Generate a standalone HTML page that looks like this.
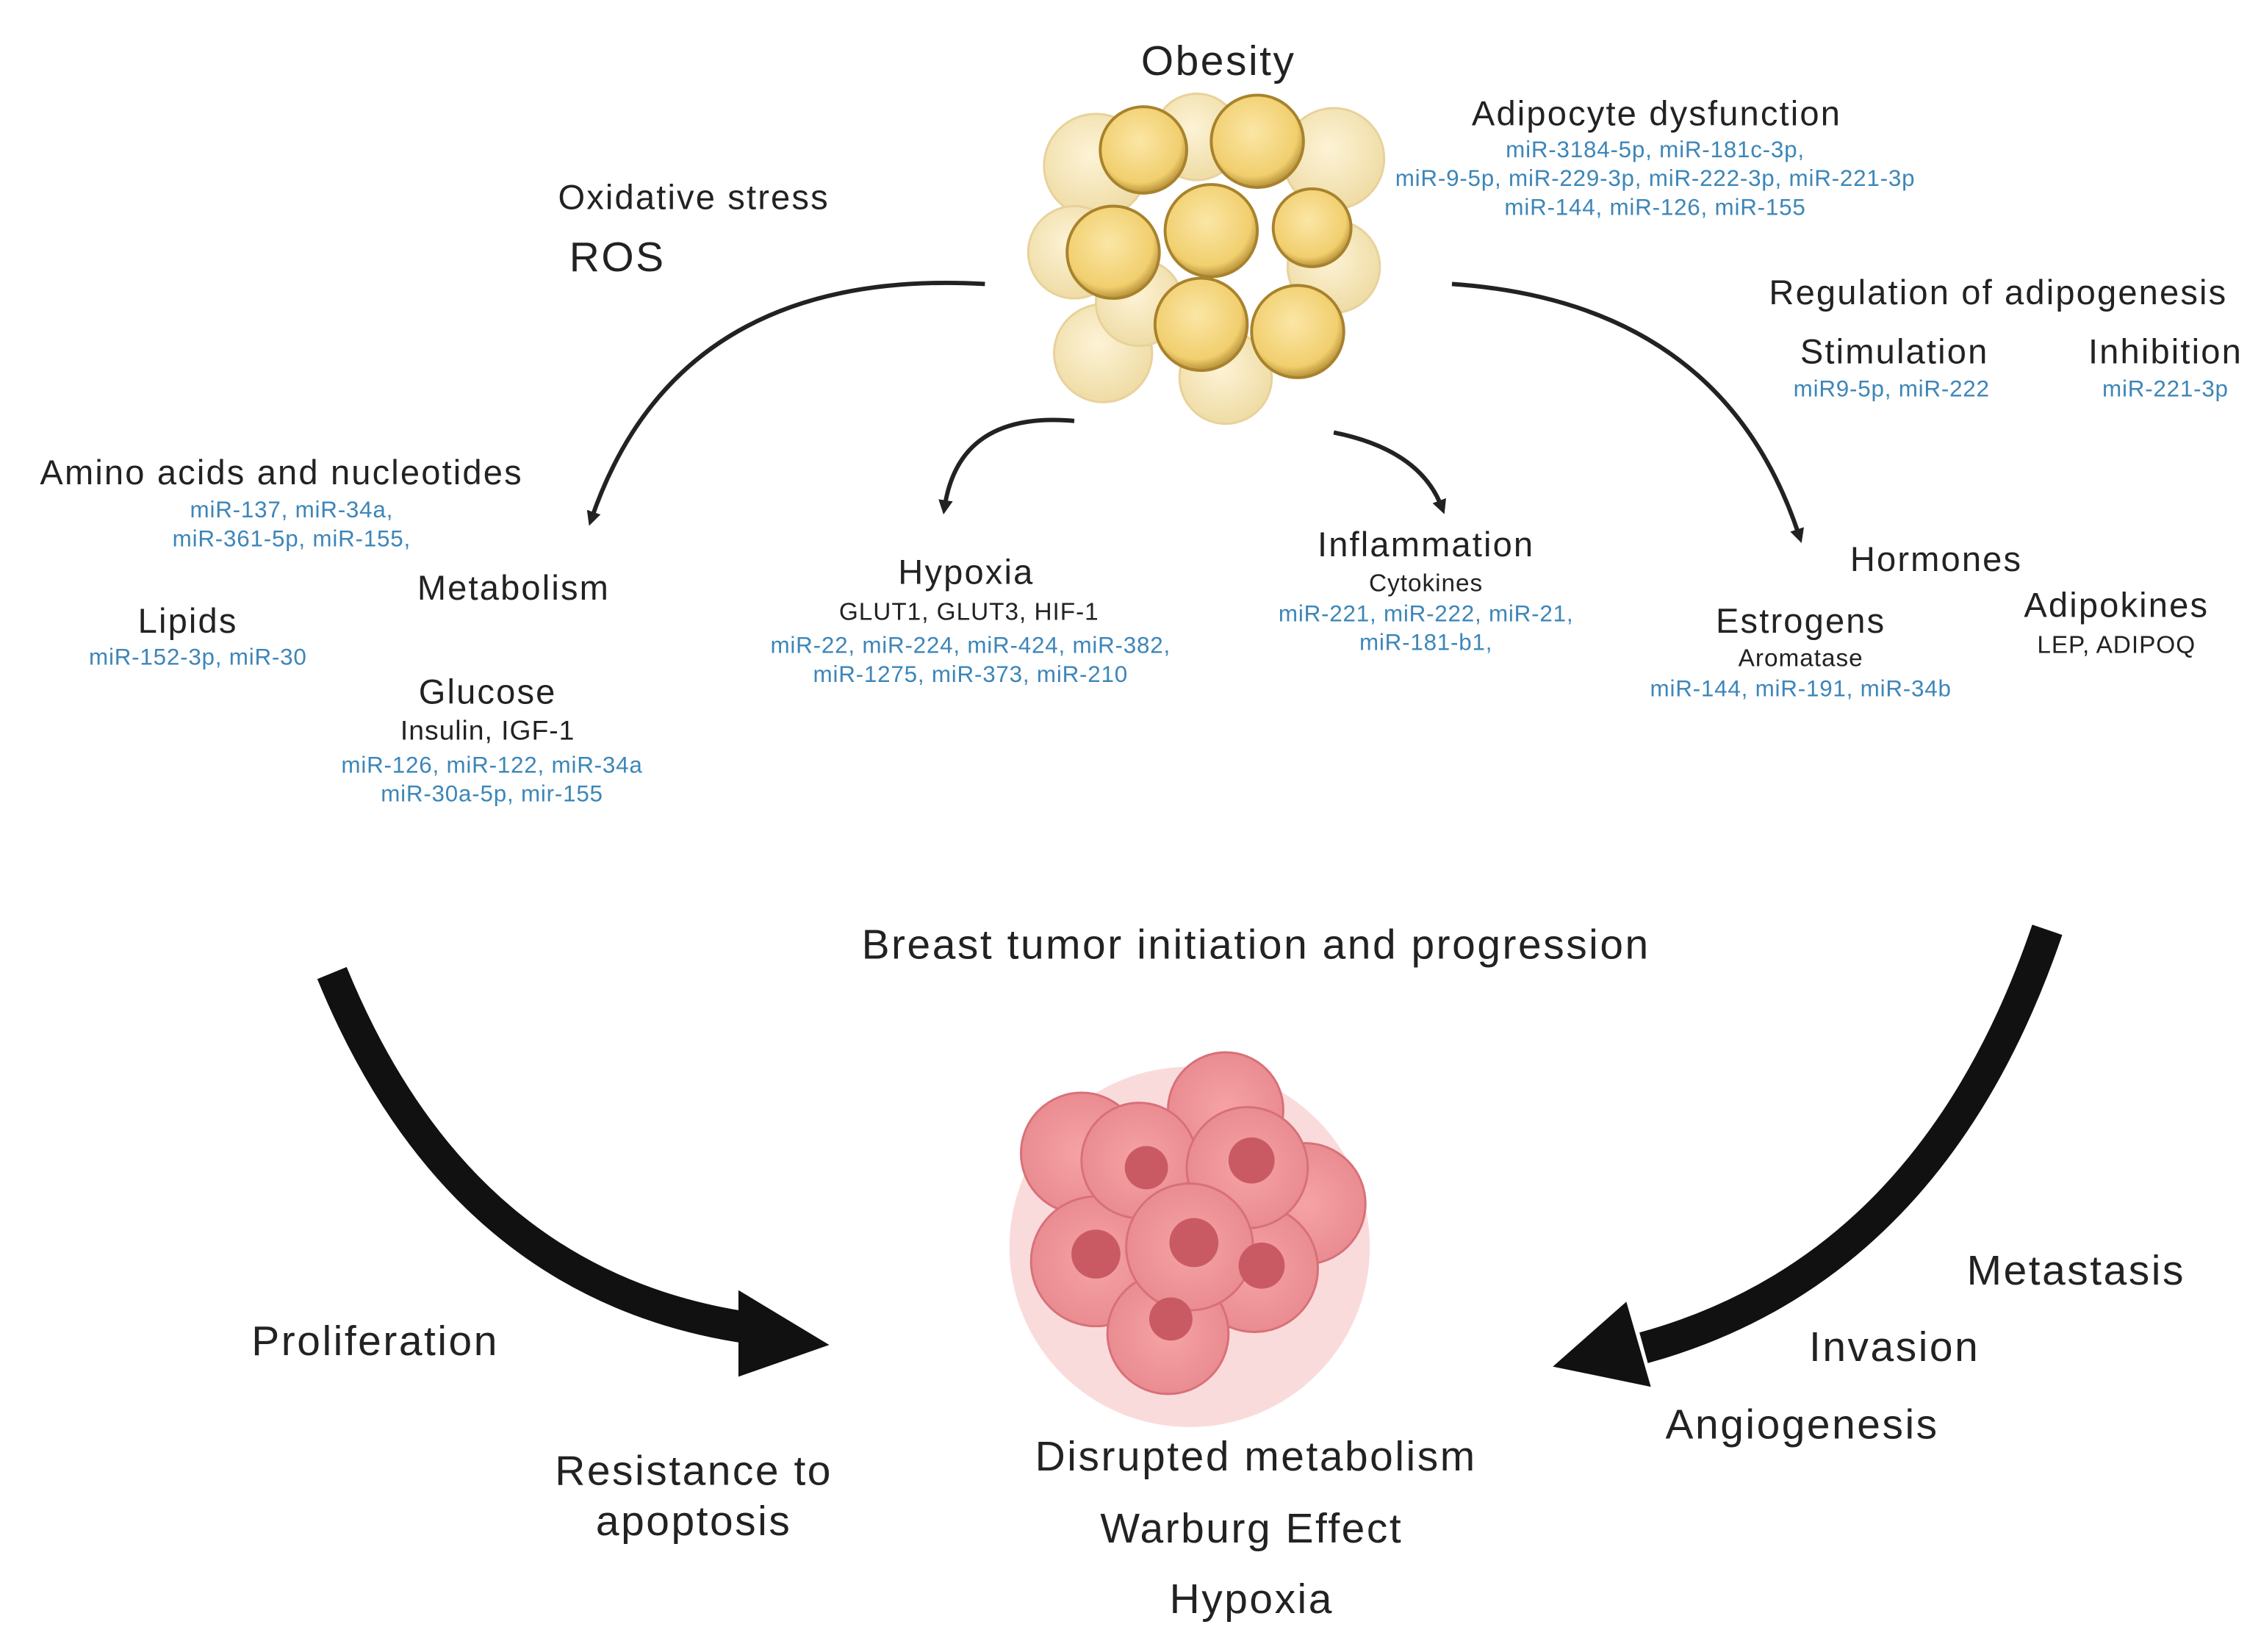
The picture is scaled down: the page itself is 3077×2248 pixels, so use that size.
<!DOCTYPE html>
<html><head><meta charset="utf-8"><style>
html,body{margin:0;padding:0;background:#fff}
svg{display:block}
text{font-family:"Liberation Sans",sans-serif;fill:#222}
.b{fill:#3d86b8;font-size:16px;letter-spacing:0.4px}
.m{font-size:24px;letter-spacing:1.1px}
.s{font-size:17px;letter-spacing:0.5px}
.l{font-size:29px;letter-spacing:1.3px}
</style></head><body>
<svg width="3077" height="2248" viewBox="0 0 1568 1146" xmlns="http://www.w3.org/2000/svg">
<defs>
<marker id="ah" markerWidth="10" markerHeight="10" refX="5" refY="5" orient="auto" markerUnits="userSpaceOnUse" viewBox="0 0 10 10">
<path d="M0,0 L10,5 L0,10 Z" fill="#222"/></marker>
<radialGradient id="fat" cx="45%" cy="40%" r="60%"><stop offset="0" stop-color="#fbe6a6"/><stop offset="0.8" stop-color="#f1cf6e"/><stop offset="1" stop-color="#b8923a"/></radialGradient>
<radialGradient id="fatl" cx="45%" cy="40%" r="60%"><stop offset="0" stop-color="#fdf3d6"/><stop offset="1" stop-color="#efdca5"/></radialGradient>
<radialGradient id="cell" cx="50%" cy="50%" r="55%"><stop offset="0" stop-color="#f6a3a6"/><stop offset="1" stop-color="#e88a8f"/></radialGradient>
</defs>
<g stroke="#e8d29a" stroke-width="1.5">
<circle cx="760" cy="115" r="36" fill="url(#fatl)"/>
<circle cx="830" cy="95" r="30" fill="url(#fatl)"/>
<circle cx="925" cy="110" r="35" fill="url(#fatl)"/>
<circle cx="745" cy="175" r="32" fill="url(#fatl)"/>
<circle cx="925" cy="185" r="32" fill="url(#fatl)"/>
<circle cx="765" cy="245" r="34" fill="url(#fatl)"/>
<circle cx="850" cy="262" r="32" fill="url(#fatl)"/>
<circle cx="790" cy="210" r="30" fill="url(#fatl)"/>
</g>
<g stroke="#a8822c" stroke-width="2">
<circle cx="793" cy="104" r="30" fill="url(#fat)"/>
<circle cx="872" cy="98" r="32" fill="url(#fat)"/>
<circle cx="840" cy="160" r="32" fill="url(#fat)"/>
<circle cx="772" cy="175" r="32" fill="url(#fat)"/>
<circle cx="910" cy="158" r="27" fill="url(#fat)"/>
<circle cx="833" cy="225" r="32" fill="url(#fat)"/>
<circle cx="900" cy="230" r="32" fill="url(#fat)"/>
</g>
<g>
<circle cx="825" cy="865" r="125" fill="#f9d2d3" opacity="0.8"/>
<g fill="url(#cell)" stroke="#d87078" stroke-width="1.5">
<circle cx="750" cy="800" r="42"/><circle cx="850" cy="770" r="40"/><circle cx="905" cy="835" r="42"/>
<circle cx="760" cy="875" r="45"/><circle cx="870" cy="880" r="44"/><circle cx="810" cy="925" r="42"/>
<circle cx="790" cy="805" r="40"/><circle cx="865" cy="810" r="42"/><circle cx="825" cy="865" r="44"/>
</g>
<g fill="#c95a64">
<circle cx="795" cy="810" r="15"/><circle cx="868" cy="805" r="16"/><circle cx="760" cy="870" r="17"/>
<circle cx="828" cy="862" r="17"/><circle cx="875" cy="878" r="16"/><circle cx="812" cy="915" r="15"/>
</g>
</g>
<g fill="none" stroke="#222" stroke-width="3">
<path d="M683,197 Q470,185 410,360" marker-end="url(#ah)"/>
<path d="M745,292 Q665,285 655,352" marker-end="url(#ah)"/>
<path d="M925,300 Q985,312 1000,352" marker-end="url(#ah)"/>
<path d="M1007,197 Q1195,210 1248,372" marker-end="url(#ah)"/>
</g>
<path d="M230,675 Q320,895 525,922" fill="none" stroke="#111" stroke-width="22"/>
<path d="M512,895 L575,933 L512,955 Z" fill="#111"/>
<path d="M1420,645 Q1340,880 1140,935" fill="none" stroke="#111" stroke-width="22"/>
<path d="M1128,903 L1077,948 L1145,962 Z" fill="#111"/>
<text x="845" y="52" class="l" text-anchor="middle">Obesity</text>
<text x="1149" y="87" class="m" text-anchor="middle">Adipocyte dysfunction</text>
<text x="1148" y="109" class="b" text-anchor="middle">miR-3184-5p, miR-181c-3p,</text>
<text x="1148" y="129" class="b" text-anchor="middle">miR-9-5p, miR-229-3p, miR-222-3p, miR-221-3p</text>
<text x="1148" y="149" class="b" text-anchor="middle">miR-144, miR-126, miR-155</text>
<text x="481" y="145" class="m" text-anchor="middle">Oxidative stress</text>
<text x="428" y="188" class="l" text-anchor="middle">ROS</text>
<text x="1386" y="211" class="m" text-anchor="middle">Regulation of adipogenesis</text>
<text x="1314" y="252" class="m" text-anchor="middle">Stimulation</text>
<text x="1312" y="275" class="b" text-anchor="middle">miR9-5p, miR-222</text>
<text x="1502" y="252" class="m" text-anchor="middle">Inhibition</text>
<text x="1502" y="275" class="b" text-anchor="middle">miR-221-3p</text>
<text x="195" y="336" class="m" text-anchor="middle">Amino acids and nucleotides</text>
<text x="202" y="359" class="b" text-anchor="middle">miR-137, miR-34a,</text>
<text x="202" y="379" class="b" text-anchor="middle">miR-361-5p, miR-155,</text>
<text x="356" y="416" class="m" text-anchor="middle">Metabolism</text>
<text x="130" y="439" class="m" text-anchor="middle">Lipids</text>
<text x="137" y="461" class="b" text-anchor="middle">miR-152-3p, miR-30</text>
<text x="338" y="488" class="m" text-anchor="middle">Glucose</text>
<text x="338" y="513" class="s" text-anchor="middle" style="font-size:19px">Insulin, IGF-1</text>
<text x="341" y="536" class="b" text-anchor="middle">miR-126, miR-122, miR-34a</text>
<text x="341" y="556" class="b" text-anchor="middle">miR-30a-5p, mir-155</text>
<text x="670" y="405" class="m" text-anchor="middle">Hypoxia</text>
<text x="672" y="430" class="s" text-anchor="middle">GLUT1, GLUT3, HIF-1</text>
<text x="673" y="453" class="b" text-anchor="middle">miR-22, miR-224, miR-424, miR-382,</text>
<text x="673" y="473" class="b" text-anchor="middle">miR-1275, miR-373, miR-210</text>
<text x="989" y="386" class="m" text-anchor="middle">Inflammation</text>
<text x="989" y="410" class="s" text-anchor="middle">Cytokines</text>
<text x="989" y="431" class="b" text-anchor="middle">miR-221, miR-222, miR-21,</text>
<text x="989" y="451" class="b" text-anchor="middle">miR-181-b1,</text>
<text x="1343" y="396" class="m" text-anchor="middle">Hormones</text>
<text x="1249" y="439" class="m" text-anchor="middle">Estrogens</text>
<text x="1249" y="462" class="s" text-anchor="middle">Aromatase</text>
<text x="1249" y="483" class="b" text-anchor="middle">miR-144, miR-191, miR-34b</text>
<text x="1468" y="428" class="m" text-anchor="middle">Adipokines</text>
<text x="1468" y="453" class="s" text-anchor="middle">LEP, ADIPOQ</text>
<text x="871" y="665" class="l" text-anchor="middle">Breast tumor initiation and progression</text>
<text x="260" y="940" class="l" text-anchor="middle">Proliferation</text>
<text x="481" y="1030" class="l" text-anchor="middle">Resistance to</text>
<text x="481" y="1065" class="l" text-anchor="middle">apoptosis</text>
<text x="1440" y="891" class="l" text-anchor="middle">Metastasis</text>
<text x="1314" y="944" class="l" text-anchor="middle">Invasion</text>
<text x="1250" y="998" class="l" text-anchor="middle">Angiogenesis</text>
<text x="871" y="1020" class="l" text-anchor="middle">Disrupted metabolism</text>
<text x="868" y="1070" class="l" text-anchor="middle">Warburg Effect</text>
<text x="868" y="1119" class="l" text-anchor="middle">Hypoxia</text>
</svg>
</body></html>
